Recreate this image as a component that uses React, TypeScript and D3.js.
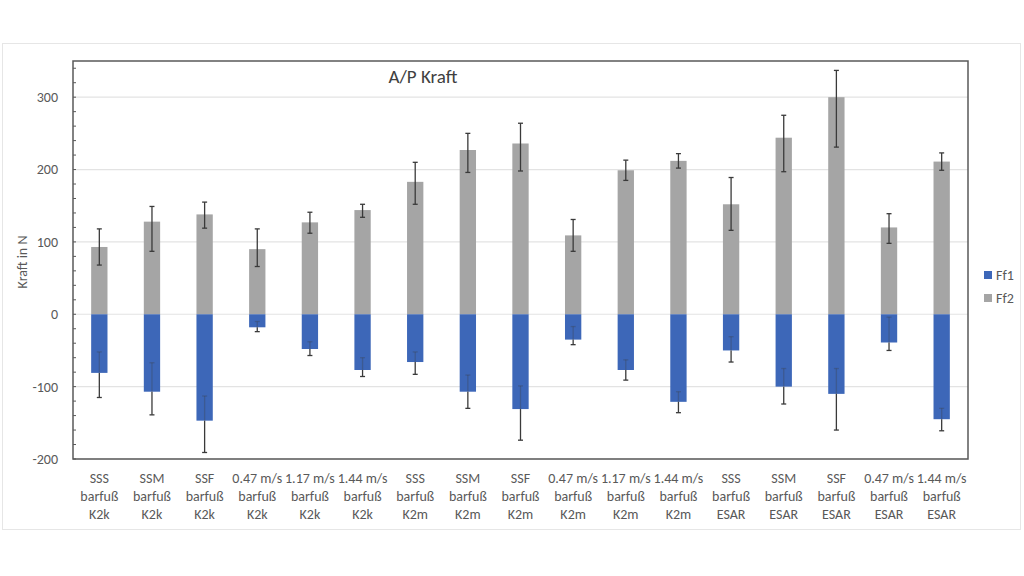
import * as d3 from "d3";
import { useEffect, useRef } from "react";

const conditions = ["SSS", "SSM", "SSF", "0.47 m/s", "1.17 m/s", "1.44 m/s", "SSS", "SSM", "SSF", "0.47 m/s", "1.17 m/s", "1.44 m/s", "SSS", "SSM", "SSF", "0.47 m/s", "1.44 m/s"];
const footwear = ["barfuß", "barfuß", "barfuß", "barfuß", "barfuß", "barfuß", "barfuß", "barfuß", "barfuß", "barfuß", "barfuß", "barfuß", "barfuß", "barfuß", "barfuß", "barfuß", "barfuß"];
const prostheses = ["K2k", "K2k", "K2k", "K2k", "K2k", "K2k", "K2m", "K2m", "K2m", "K2m", "K2m", "K2m", "ESAR", "ESAR", "ESAR", "ESAR", "ESAR"];

// Ff1 means and error bar ends (upper = inside bar, lower = below bar)
const ff1 = [-81, -107, -147, -18, -48, -77, -66, -107, -131, -35, -77, -121, -50, -100, -110, -39, -145];
const ff1Hi = [-52, -67, -113, -10, -38, -60, -52, -84, -99, -17, -63, -107, -31, -75, -75, -4, -130];
const ff1Lo = [-115, -139, -191, -24, -57, -86, -83, -130, -174, -42, -91, -136, -66, -124, -160, -50, -161];
// Ff2 means and error bar ends
const ff2 = [93, 128, 138, 90, 127, 144, 183, 227, 236, 109, 199, 212, 152, 244, 300, 120, 211];
const ff2Hi = [118, 149, 155, 118, 141, 152, 210, 250, 264, 131, 213, 222, 189, 275, 337, 139, 223];
const ff2Lo = [68, 87, 119, 66, 112, 134, 152, 196, 198, 87, 185, 202, 116, 197, 231, 98, 199];

const yTicks = [-200, -100, 0, 100, 200, 300];
const seriesNames = ["Ff1", "Ff2"];
const colors = ["#3d67b8", "#a5a5a5"];

function drawChart(container: HTMLElement) {
  const width = 1024;
  const height = 576;
  const left = 73;
  const right = 968;
  const top = 61;
  const bottom = 459;
  const font = "Calibri, Carlito, 'Liberation Sans', Arial, sans-serif";

  const svg = d3.select(container)
    .append("svg")
    .attr("width", width)
    .attr("height", height)
    .attr("style", "position:absolute;left:0;top:0;background:#fff")
    .style("font-family", font);

  // outer chart frame
  svg.append("rect")
    .attr("x", 2.5).attr("y", 43.5).attr("width", 1018).attr("height", 486)
    .attr("fill", "none").attr("stroke", "#e6e6e6");

  const idx = conditions.map((_, i) => i);
  const x = d3.scaleBand<number>(idx, [left, right]).paddingInner(0.69).paddingOuter(0.345);
  const y = d3.scaleLinear([-200, 350], [bottom, top]);

  // gridlines
  svg.append("g")
    .selectAll("line")
    .data(yTicks)
    .join("line")
    .attr("x1", left).attr("x2", right)
    .attr("y1", d => y(d)).attr("y2", d => y(d))
    .attr("stroke", "#e3e3e3").attr("stroke-width", 1.2);

  // minor ticks
  svg.append("g")
    .selectAll("line")
    .data(d3.range(-200, 341, 20))
    .join("line")
    .attr("x1", left).attr("x2", left + 3)
    .attr("y1", d => y(d)).attr("y2", d => y(d))
    .attr("stroke", "#595959").attr("stroke-width", 1);

  // y tick labels
  svg.append("g")
    .selectAll("text")
    .data(yTicks)
    .join("text")
    .attr("x", left - 15)
    .attr("y", d => y(d))
    .attr("dy", "0.35em")
    .attr("text-anchor", "end")
    .attr("font-size", 14)
    .attr("fill", "#595959")
    .text(d => d);

  // bars
  const bw = x.bandwidth();
  svg.append("g")
    .selectAll("rect")
    .data(idx)
    .join("rect")
    .attr("x", i => x(i)!)
    .attr("width", bw)
    .attr("y", i => y(ff2[i]))
    .attr("height", i => y(0) - y(ff2[i]))
    .attr("fill", colors[1]);

  svg.append("g")
    .selectAll("rect")
    .data(idx)
    .join("rect")
    .attr("x", i => x(i)!)
    .attr("width", bw)
    .attr("y", y(0))
    .attr("height", i => y(ff1[i]) - y(0))
    .attr("fill", colors[0]);

  // error bars
  const eb = svg.append("g").attr("stroke", "#3a3a3a").attr("stroke-width", 1.3);
  const cap = (cx: number, v: number, op = 1) =>
    eb.append("line").attr("x1", cx - 2.5).attr("x2", cx + 2.5)
      .attr("y1", y(v)).attr("y2", y(v)).attr("stroke-opacity", op);
  idx.forEach(i => {
    const cx = x(i)! + bw / 2;
    // Ff2
    eb.append("line").attr("x1", cx).attr("x2", cx)
      .attr("y1", y(ff2Hi[i])).attr("y2", y(ff2Lo[i]));
    cap(cx, ff2Hi[i]);
    cap(cx, ff2Lo[i]);
    // Ff1: part inside the bar is faint
    eb.append("line").attr("x1", cx).attr("x2", cx)
      .attr("y1", y(ff1[i])).attr("y2", y(ff1Lo[i]));
    eb.append("line").attr("x1", cx).attr("x2", cx)
      .attr("y1", y(ff1Hi[i])).attr("y2", y(ff1[i]))
      .attr("stroke-opacity", 0.3);
    cap(cx, ff1Lo[i]);
    cap(cx, ff1Hi[i], 0.3);
  });

  // plot frame
  svg.append("rect")
    .attr("x", left).attr("y", top).attr("width", right - left).attr("height", bottom - top)
    .attr("fill", "none").attr("stroke", "#595959").attr("stroke-width", 1.5);

  // x labels
  const xl = svg.append("g")
    .selectAll("text")
    .data(idx)
    .join("text")
    .attr("text-anchor", "middle")
    .attr("font-size", 14)
    .attr("fill", "#595959");
  [conditions, footwear, prostheses].forEach((arr, row) => {
    xl.append("tspan")
      .attr("x", i => x(i)! + bw / 2)
      .attr("y", 483 + row * 18)
      .text(i => arr[i]);
  });

  // title
  svg.append("text")
    .attr("x", 423).attr("y", 83)
    .attr("text-anchor", "middle")
    .attr("font-size", 19)
    .attr("fill", "#404040")
    .text("A/P Kraft");

  // y title
  svg.append("text")
    .attr("transform", "translate(27,262) rotate(-90)")
    .attr("text-anchor", "middle")
    .attr("font-size", 14)
    .attr("fill", "#595959")
    .text("Kraft in N");

  // legend
  const lg = svg.append("g")
    .selectAll("g")
    .data(seriesNames)
    .join("g")
    .attr("transform", (_, i) => `translate(984,${271 + i * 23})`);
  lg.append("rect").attr("width", 8).attr("height", 8).attr("fill", (_, i) => colors[i]);
  lg.append("text").attr("x", 12).attr("y", 9)
    .attr("font-size", 14).attr("fill", "#595959")
    .text(d => d);
}

export default function App() {
  const domRef = useRef<HTMLDivElement>(null);
  useEffect(() => {
    if (domRef.current) {
      drawChart(domRef.current);
    }
    return () => {
      if (domRef.current) {
        d3.select(domRef.current).selectAll("svg").remove();
      }
    };
  }, [domRef]);
  return <div ref={domRef}></div>;
}
